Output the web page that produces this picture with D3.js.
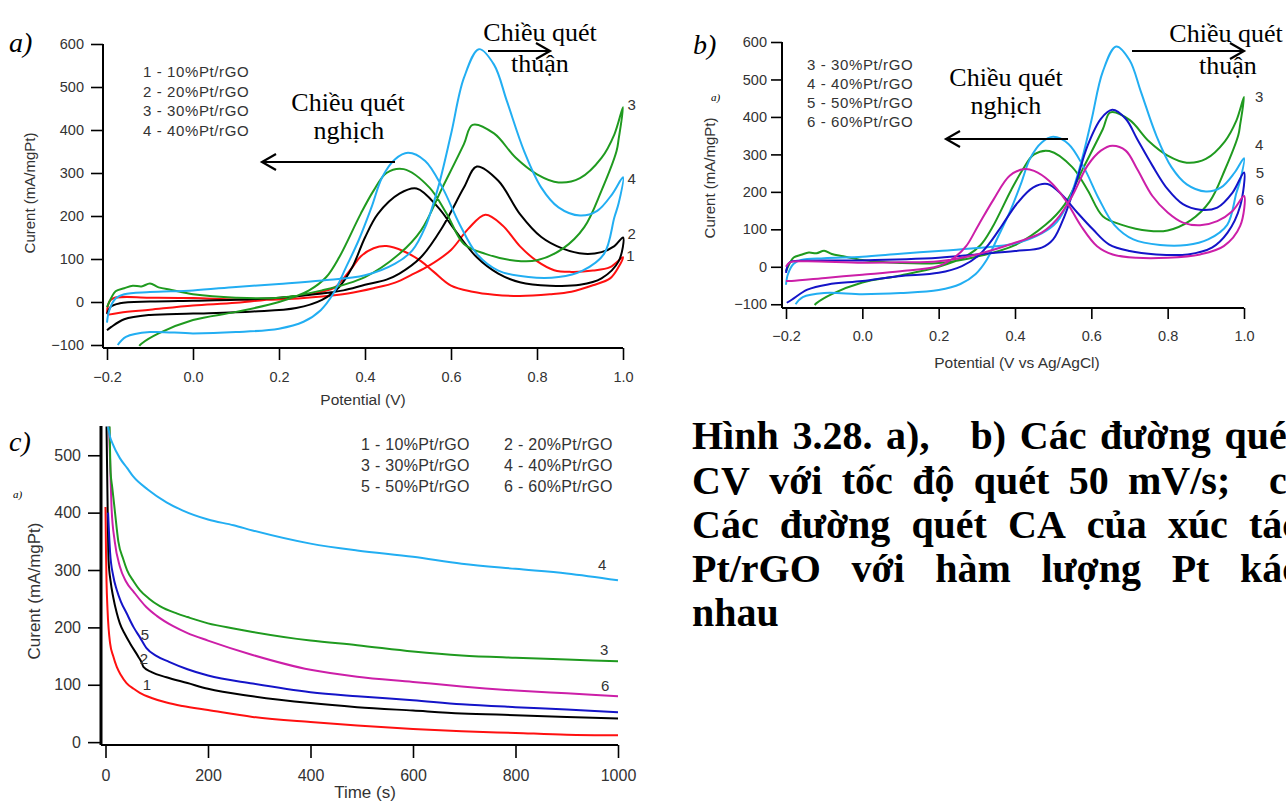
<!DOCTYPE html>
<html><head><meta charset="utf-8">
<script src="https://cdn.jsdelivr.net/npm/d3@7"></script>
<style>body{margin:0;background:#fff;} svg{display:block;}</style>
</head><body>
<svg id="chart" width="1286" height="803"></svg>
<script>
// ---------------- DATA ----------------
const sampleNames = ["1 - 10%Pt/rGO", "2 - 20%Pt/rGO", "3 - 30%Pt/rGO", "4 - 40%Pt/rGO", "5 - 50%Pt/rGO", "6 - 60%Pt/rGO"];
const potentialTicks = [-0.2, 0.0, 0.2, 0.4, 0.6, 0.8, 1.0];
const cvCurrentTicks = [-100, 0, 100, 200, 300, 400, 500, 600];
const timeTicks = [0, 200, 400, 600, 800, 1000];
const caCurrentTicks = [0, 100, 200, 300, 400, 500];

// CV loops: [potential (V), current (mA/mgPt)], forward scan then backward scan
const cv1 = [[-0.2,-26],[-0.19,6],[-0.1,10],[0.0,9],[0.1,6],[0.2,6],[0.3,13],[0.36,20],[0.42,32],[0.47,45],[0.51,64],[0.55,85],[0.6,121],[0.64,170],[0.68,203],[0.72,178],[0.76,130],[0.8,95],[0.84,74],[0.88,70],[0.93,73],[0.97,81],[1.0,104],
  [0.99,82],[0.97,55],[0.93,39],[0.88,24],[0.83,18],[0.76,14],[0.7,17],[0.65,24],[0.6,38],[0.56,70],[0.53,95],[0.49,118],[0.45,130],[0.42,125],[0.39,106],[0.37,80],[0.35,55],[0.33,34],[0.3,24],[0.26,16],[0.2,9],[0.1,-2],[0.0,-8],[-0.1,-18],[-0.17,-25],[-0.2,-30]];
const cv2 = [[-0.2,-28],[-0.19,-10],[-0.17,-3],[-0.1,1],[0.0,3],[0.1,5],[0.2,10],[0.3,20],[0.35,27],[0.4,40],[0.45,52],[0.48,66],[0.53,104],[0.58,174],[0.63,266],[0.66,315],[0.71,282],[0.76,205],[0.81,151],[0.86,124],[0.91,112],[0.95,116],[0.98,130],[1.0,150],
  [0.99,95],[0.95,55],[0.9,40],[0.83,38],[0.76,46],[0.71,66],[0.66,104],[0.61,166],[0.57,220],[0.52,264],[0.48,252],[0.43,205],[0.4,150],[0.37,80],[0.34,35],[0.3,5],[0.24,-14],[0.14,-22],[0.0,-27],[-0.1,-30],[-0.16,-40],[-0.19,-58],[-0.2,-66]];
const cv3 = [[-0.2,-12],[-0.19,10],[-0.18,25],[-0.16,32],[-0.14,38],[-0.12,36],[-0.1,43],[-0.08,34],[-0.05,28],[0.0,18],[0.1,10],[0.2,10],[0.3,27],[0.4,58],[0.48,112],[0.53,166],[0.58,266],[0.63,367],[0.65,412],[0.7,392],[0.75,336],[0.8,297],[0.85,278],[0.9,288],[0.95,335],[0.98,390],[1.0,453],
  [0.99,380],[0.985,351],[0.95,259],[0.91,174],[0.86,124],[0.8,97],[0.75,96],[0.68,112],[0.63,135],[0.59,205],[0.55,266],[0.49,309],[0.45,300],[0.42,259],[0.39,205],[0.34,104],[0.31,58],[0.27,27],[0.2,0],[0.1,-23],[0.0,-42],[-0.08,-73],[-0.12,-97],[-0.125,-102]];
const cv4 = [[-0.2,-48],[-0.195,-20],[-0.18,8],[-0.16,18],[-0.1,23],[0.0,27],[0.1,35],[0.2,42],[0.3,50],[0.4,62],[0.47,89],[0.51,120],[0.54,174],[0.57,266],[0.6,390],[0.63,521],[0.665,588],[0.7,552],[0.73,467],[0.77,351],[0.81,266],[0.85,220],[0.9,201],[0.94,212],[0.975,251],[1.0,290],
  [0.99,230],[0.98,197],[0.956,112],[0.906,73],[0.85,58],[0.78,58],[0.71,73],[0.66,112],[0.62,181],[0.58,266],[0.54,328],[0.5,347],[0.47,332],[0.44,290],[0.415,220],[0.385,143],[0.356,81],[0.326,19],[0.297,-19],[0.257,-46],[0.2,-62],[0.1,-70],[0.0,-73],[-0.1,-70],[-0.156,-81],[-0.175,-100]];
const cv5 = [[-0.2,-16],[-0.19,12],[-0.15,16],[0.0,17],[0.2,24],[0.3,33],[0.4,42],[0.47,51],[0.5,73],[0.53,136],[0.56,225],[0.59,323],[0.625,395],[0.655,419],[0.69,395],[0.72,341],[0.76,270],[0.8,207],[0.84,167],[0.885,152],[0.93,158],[0.97,198],[1.0,252],
  [0.99,162],[0.957,91],[0.916,51],[0.853,33],[0.77,33],[0.7,42],[0.646,60],[0.604,100],[0.563,145],[0.521,194],[0.485,221],[0.448,212],[0.407,171],[0.365,109],[0.334,64],[0.303,29],[0.261,2],[0.2,-16],[0.095,-25],[0.0,-38],[-0.09,-47],[-0.144,-61],[-0.185,-88],[-0.198,-96]];
const cv6 = [[-0.2,0],[-0.19,12],[-0.15,15],[0.0,11],[0.1,12],[0.2,15],[0.3,33],[0.4,64],[0.47,91],[0.51,127],[0.55,189],[0.59,270],[0.625,310],[0.655,323],[0.69,310],[0.72,261],[0.76,189],[0.8,145],[0.84,118],[0.885,111],[0.93,122],[0.97,149],[1.0,189],
  [0.99,109],[0.947,55],[0.885,33],[0.8,24],[0.718,24],[0.656,33],[0.615,55],[0.573,109],[0.531,180],[0.49,229],[0.45,256],[0.425,261],[0.386,243],[0.344,180],[0.303,109],[0.272,55],[0.24,24],[0.2,2],[0.1,-12],[0.0,-21],[-0.09,-29],[-0.185,-38],[-0.2,-38]];

// CA curves: [time (s), current (mA/mgPt)]
const ca1 = [[0,410],[1,330],[2,280],[4,230],[9,172],[15,150],[22,131],[30,117],[41,103],[55,93],[67,86],[90,77],[119,69],[150,63],[200,56],[287,44],[400,35],[491,29],[600,23],[695,19],[800,16],[900,13],[1000,12]];
const ca2 = [[2,550],[4,420],[6,317],[10,280],[15,253],[22,225],[28,207],[38,188],[48,172],[64,149],[70,140],[74,131],[90,122],[119,113],[160,103],[200,93],[287,80],[400,68],[491,61],[600,55],[695,50],[800,47],[900,44],[1000,41]];
const ca3 = [[8,550],[10,470],[13,445],[18,405],[25,350],[35,318],[42,300],[55,280],[67,265],[85,250],[106,237],[140,224],[160,218],[200,207],[250,198],[287,192],[400,177],[491,169],[600,158],[695,151],[800,147],[900,144],[1000,141]];
const ca4 = [[5,550],[9,532],[14,520],[28,495],[42,478],[54,463],[83,440],[119,418],[150,404],[200,388],[250,378],[287,369],[400,346],[491,334],[600,323],[695,311],[800,302],[900,294],[1000,282]];
const ca5 = [[5,400],[9,330],[15,290],[22,265],[30,245],[41,225],[55,200],[67,183],[80,164],[100,150],[124,140],[160,127],[200,116],[287,102],[400,87],[491,80],[600,73],[695,66],[800,61],[900,57],[1000,52]];
const ca6 = [[7,550],[10,460],[12,405],[18,350],[28,306],[40,280],[55,262],[80,235],[100,220],[132,202],[160,190],[200,177],[287,152],[400,126],[491,114],[600,105],[695,97],[800,90],[900,85],[1000,80]];

const captionLines = ["Hình 3.28. a),   b) Các đường quét", "CV với tốc độ quét 50 mV/s;  c)", "Các đường quét CA của xúc tác", "Pt/rGO với hàm lượng Pt kác", "nhau"];

// ---------------- STYLE ----------------
const colors = {1:"#ff1010", 2:"#000000", 3:"#1f9a1f", 4:"#22aef2", 5:"#1414c8", 6:"#cc1fa8"};
const sans = "'Liberation Sans', Arial, sans-serif";
const serif = "'Liberation Serif', 'Times New Roman', serif";
const txtCol = "#333";

const svg = d3.select("#chart");

function panel(cfg) {
  const g = svg.append("g");
  const x = d3.scaleLinear().domain(cfg.xDomain).range(cfg.xRange);
  const y = d3.scaleLinear().domain(cfg.yDomain).range(cfg.yRange);
  const clipId = "clip" + cfg.id;
  svg.append("clipPath").attr("id", clipId).append("rect")
    .attr("x", cfg.axisX).attr("y", y(cfg.yDomain[1])).attr("width", cfg.xRange[1] - cfg.axisX + 2)
    .attr("height", cfg.axisY - y(cfg.yDomain[1]));
  const ya = g.append("g").attr("transform", `translate(${cfg.axisX},0)`)
    .call(d3.axisLeft(y).tickValues(cfg.yTicks).tickSize(cfg.tickLen).tickPadding(cfg.yPad).tickFormat(d3.format("d")));
  ya.select(".domain").remove();
  ya.selectAll(".tick line").attr("stroke", "#000").attr("stroke-width", 1.6);
  ya.selectAll(".tick text").attr("font-family", sans).attr("font-size", cfg.fs).attr("fill", txtCol);
  g.append("line").attr("x1", cfg.axisX).attr("x2", cfg.axisX).attr("y1", y(cfg.yDomain[1])).attr("y2", cfg.axisY)
    .attr("stroke", "#000").attr("stroke-width", cfg.axisW);
  const xa = g.append("g").attr("transform", `translate(0,${cfg.axisY})`)
    .call(d3.axisBottom(x).tickValues(cfg.xTicks).tickSize(cfg.tickLen).tickPadding(cfg.xPad).tickFormat(cfg.xFmt));
  xa.select(".domain").remove();
  xa.selectAll(".tick line").attr("stroke", "#000").attr("stroke-width", 1.6);
  xa.selectAll(".tick text").attr("font-family", sans).attr("font-size", cfg.fs).attr("fill", txtCol);
  g.append("line").attr("x1", cfg.axisX).attr("x2", cfg.xRange[1]).attr("y1", cfg.axisY).attr("y2", cfg.axisY)
    .attr("stroke", "#000").attr("stroke-width", 2);
  g.append("text").attr("x", cfg.xTitle[0]).attr("y", cfg.xTitle[1]).attr("text-anchor", "middle")
    .attr("font-family", sans).attr("font-size", cfg.fs + 1).attr("fill", txtCol).text(cfg.xLabel);
  g.append("text").attr("transform", `translate(${cfg.yTitle[0]},${cfg.yTitle[1]}) rotate(-90)`).attr("text-anchor", "middle")
    .attr("font-family", sans).attr("font-size", cfg.yFs).attr("fill", txtCol).text("Curent (mA/mgPt)");
  const line = d3.line().x(d => x(d[0])).y(d => y(d[1])).curve(cfg.curve);
  const cg = g.append("g").attr("clip-path", `url(#${clipId})`);
  cfg.series.forEach(s => {
    cg.append("path").datum(s.data).attr("d", line).attr("fill", "none")
      .attr("stroke", colors[s.k]).attr("stroke-width", 2).attr("stroke-linejoin", "round");
  });
  return {g, x, y};
}

const fmt1 = d3.format(".1f");

const A = panel({id:"a", xDomain:[-0.2,1.0], xRange:[107,623], yDomain:[-107,600], yRange:[348,44],
  axisX:103, axisY:348, axisW:2, tickLen:12, yPad:7, xPad:12, fs:14.5, yFs:15,
  xTicks:potentialTicks, yTicks:cvCurrentTicks, xFmt:fmt1, xLabel:"Potential (V)", xTitle:[363,405], yTitle:[35,193],
  curve:d3.curveCatmullRom.alpha(0.5),
  series:[{k:1,data:cv1},{k:2,data:cv2},{k:3,data:cv3},{k:4,data:cv4}]});
const B = panel({id:"b", xDomain:[-0.2,1.0], xRange:[786,1244], yDomain:[-110,600], yRange:[308,42],
  axisX:782, axisY:308, axisW:2, tickLen:11, yPad:4, xPad:12, fs:14.5, yFs:15,
  xTicks:potentialTicks, yTicks:cvCurrentTicks, xFmt:fmt1, xLabel:"Potential (V vs Ag/AgCl)", xTitle:[1017,368], yTitle:[715,178],
  curve:d3.curveCatmullRom.alpha(0.5),
  series:[{k:3,data:cv3},{k:4,data:cv4},{k:5,data:cv5},{k:6,data:cv6}]});
const C = panel({id:"c", xDomain:[0,1000], xRange:[105.5,618], yDomain:[-5,551], yRange:[745,426],
  axisX:101, axisY:745, axisW:3, tickLen:13, yPad:7, xPad:12, fs:16, yFs:17,
  xTicks:timeTicks, yTicks:caCurrentTicks, xFmt:d3.format("d"), xLabel:"Time (s)", xTitle:[365,798], yTitle:[40,591],
  curve:d3.curveMonotoneX,
  series:[{k:1,data:ca1},{k:2,data:ca2},{k:5,data:ca5},{k:6,data:ca6},{k:3,data:ca3},{k:4,data:ca4}]});

function legend(list, x0, y0, dy, fs) {
  list.forEach((k, i) => svg.append("text").attr("x", x0).attr("y", y0 + i*dy)
    .attr("font-family", sans).attr("font-size", fs).attr("fill", txtCol).attr("letter-spacing", 0.6).text(sampleNames[k-1]));
}
legend([1,2,3,4], 143, 77, 19.7, 15);
legend([3,4,5,6], 807, 69.5, 19.3, 15);
[[1,2],[3,4],[5,6]].forEach((row, r) => row.forEach((k, c) =>
  svg.append("text").attr("x", c ? 504 : 361).attr("y", 450 + r*21).attr("font-family", sans)
    .attr("font-size", 16).attr("fill", txtCol).attr("letter-spacing", 0.3).text(sampleNames[k-1])));

function numLabelAt(P, k, xv, yv, fs) {
  svg.append("text").attr("x", P.x(xv)).attr("y", P.y(yv)).attr("text-anchor", "middle").attr("dominant-baseline", "central")
    .attr("font-family", sans).attr("font-size", fs).attr("fill", txtCol).text(k);
}
numLabelAt(A, "3", 1.02, 460, 15); numLabelAt(A, "4", 1.02, 288, 15);
numLabelAt(A, "2", 1.02, 160, 15); numLabelAt(A, "1", 1.017, 107, 15);
numLabelAt(B, "3", 1.04, 454, 15); numLabelAt(B, "4", 1.04, 327, 15);
numLabelAt(B, "5", 1.042, 252, 15); numLabelAt(B, "6", 1.042, 180, 15);
numLabelAt(C, "4", 969, 310, 15); numLabelAt(C, "3", 973, 161, 15); numLabelAt(C, "6", 975, 98, 15);
numLabelAt(C, "5", 77, 187, 15); numLabelAt(C, "2", 75, 145, 15); numLabelAt(C, "1", 81, 100, 15);

function vt(x, y, s, fs) {
  svg.append("text").attr("x", x).attr("y", y).attr("text-anchor", "middle").attr("font-family", serif)
    .attr("font-size", fs).attr("fill", "#000").text(s);
}
function arrow(x1, x2, y) {
  svg.append("line").attr("x1", x1).attr("x2", x2).attr("y1", y).attr("y2", y).attr("stroke", "#000").attr("stroke-width", 2.2);
  const dir = x2 > x1 ? -1 : 1;
  svg.append("polyline").attr("points", `${x2 + dir*14},${y-8} ${x2},${y} ${x2 + dir*14},${y+8}`)
    .attr("fill", "none").attr("stroke", "#000").attr("stroke-width", 2.2);
}
vt(348, 111, "Chiều quét", 26); vt(349, 139, "nghịch", 26); arrow(395, 262, 162);
vt(540, 41, "Chiều quét", 26); vt(540, 72, "thuận", 26); arrow(488, 550, 51);
vt(1006, 86, "Chiều quét", 26); vt(1006, 114, "nghịch", 26); arrow(1068, 946, 139);
vt(1226, 42, "Chiều quét", 26); vt(1228, 74, "thuận", 26); arrow(1132, 1244, 51);

function letter(x, y, s, fs) {
  svg.append("text").attr("x", x).attr("y", y).attr("font-family", serif).attr("font-style", "italic")
    .attr("font-size", fs).attr("fill", "#000").text(s);
}
letter(9, 52, "a)", 28); letter(693, 54, "b)", 28); letter(9, 451, "c)", 28);
letter(711, 101, "a)", 11); letter(13, 498, "a)", 11);

// caption (justified lines, running past the right edge as in the source)
const capX0 = 692, capX1 = 1300, capY = [449, 494, 538, 582, 626], capFs = 40;
captionLines.forEach((ln, i) => {
  const toks = ln.split(" ");
  const els = toks.map(t => svg.append("text").attr("y", capY[i]).attr("font-family", serif).attr("font-weight", "bold")
    .attr("font-size", capFs).attr("fill", "#000").text(t));
  const widths = els.map(e => e.node().getComputedTextLength());
  const total = d3.sum(widths);
  let gap = (i < captionLines.length - 1 && toks.length > 1) ? (capX1 - capX0 - total) / (toks.length - 1) : capFs * 0.25;
  gap = Math.max(gap, capFs * 0.2);
  let xx = capX0;
  els.forEach((e, j) => { e.attr("x", xx); xx += widths[j] + gap; });
});
</script></body></html>
